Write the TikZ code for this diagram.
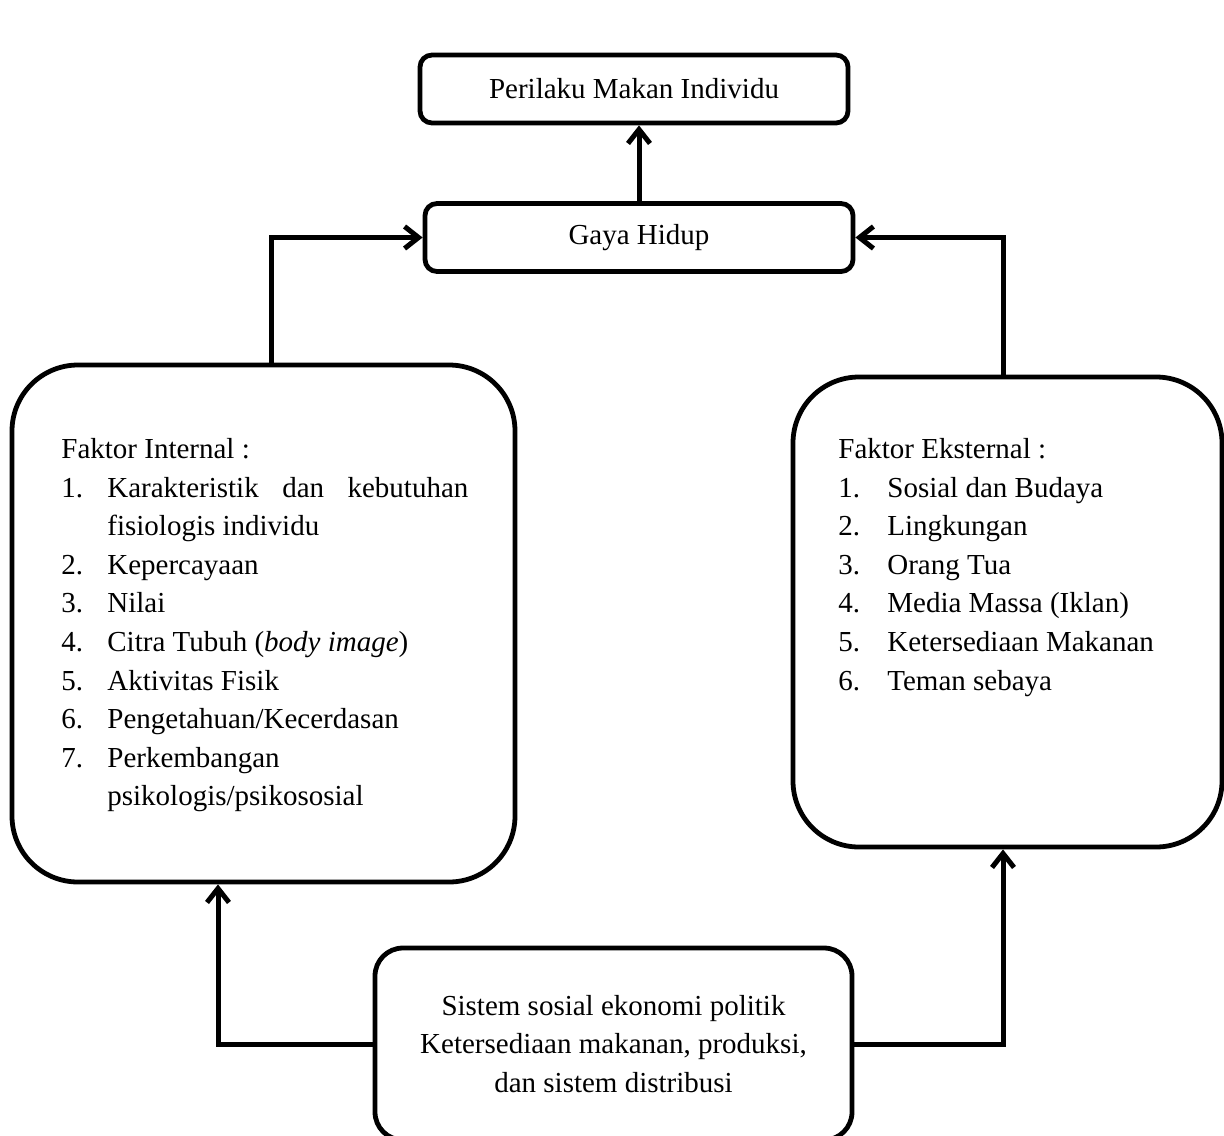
\documentclass[tikz,border=0pt]{standalone}
\usepackage{fontspec}
\setmainfont{Liberation Serif}
\usetikzlibrary{arrows.meta}
\tikzset{
	kotak/.style={draw,line width=2.4pt,rounded corners=6pt,minimum width=214pt,minimum height=34pt,inner sep=0pt},
	kotakbesar/.style={draw,line width=2.4pt,rounded corners=33pt,inner sep=0pt},
	panah/.style={line width=2.5pt,-{Straight Barb[length=7pt,width=11pt]}},
	daftar/.style={anchor=north west,inner sep=0pt},
}
\begin{document}
\begin{tikzpicture}[x=0.5pt,y=-0.5pt,font=\fontsize{14.5}{19.3}\selectfont]
	\useasboundingbox (0,0) rectangle (1224,1135);
	% kotak
	\node[kotak] (perilaku) at (634,89) {Perilaku Makan Individu};
	\node[kotak] (gaya) at (639,237.5) {Gaya Hidup};
	\node[kotakbesar,minimum width=251.5pt,minimum height=258.5pt] (internal) at (263.5,623.5) {};
	\node[kotakbesar,minimum width=214.5pt,minimum height=235pt] (eksternal) at (1007.5,612) {};
	\node[kotak,rounded corners=14pt,minimum width=238.5pt,minimum height=96pt,align=center] (sistem) at (613.5,1044)
		{Sistem sosial ekonomi politik\\Ketersediaan makanan, produksi,\\dan sistem distribusi};
	% isi daftar
	\node[daftar] (teksint) at (61,431) {\begin{tabular}{@{}p{23pt}@{}l@{}}
		\multicolumn{2}{@{}l@{}}{Faktor Internal :}\\
		1. & \makebox[180.5pt][s]{Karakteristik dan kebutuhan}\\
		   & fisiologis individu\\
		2. & Kepercayaan\\
		3. & Nilai\\
		4. & Citra Tubuh (\textit{body image})\\
		5. & Aktivitas Fisik\\
		6. & Pengetahuan/Kecerdasan\\
		7. & Perkembangan\\
		   & psikologis/psikososial
	\end{tabular}};
	\node[daftar] (teksekst) at (838,431) {\begin{tabular}{@{}p{24.5pt}@{}l@{}}
		\multicolumn{2}{@{}l@{}}{Faktor Eksternal :}\\
		1. & Sosial dan Budaya\\
		2. & Lingkungan\\
		3. & Orang Tua\\
		4. & Media Massa (Iklan)\\
		5. & Ketersediaan Makanan\\
		6. & Teman sebaya
	\end{tabular}};
	% panah
	\draw[panah] (gaya.north) -- (gaya.north |- perilaku.south);
	\draw[panah] ([xshift=4pt]internal.north) |- (gaya.west);
	\draw[panah] ([xshift=-2.25pt]eksternal.north) |- (gaya.east);
	\draw[panah] (sistem.west) -| ([xshift=-22.75pt]internal.south);
	\draw[panah] (sistem.east) -| ([xshift=-2.25pt]eksternal.south);
\end{tikzpicture}
\end{document}
